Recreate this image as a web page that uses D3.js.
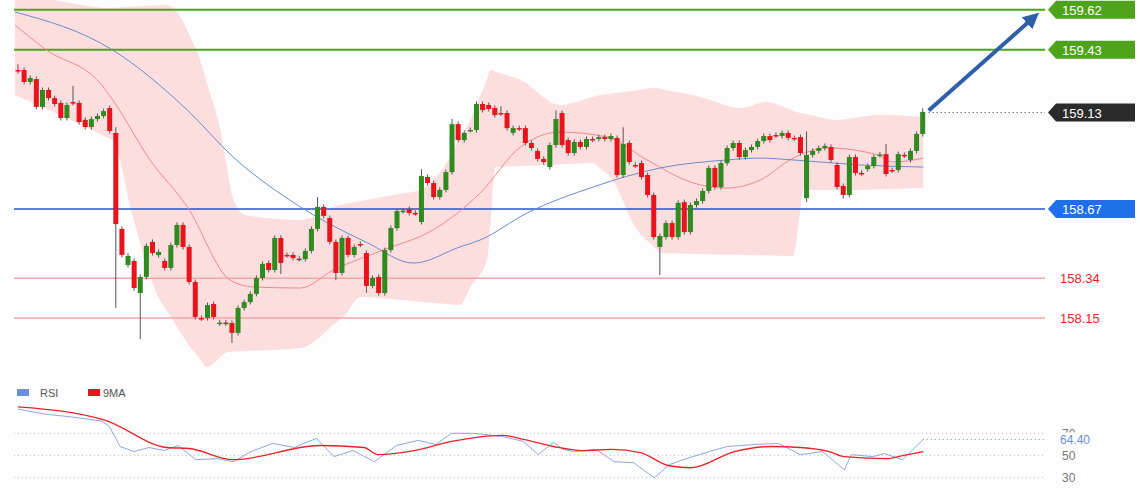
<!DOCTYPE html>
<html><head><meta charset="utf-8">
<script src="https://cdn.jsdelivr.net/npm/d3@7"></script>
<style>body{margin:0;background:#fdfdfd;font-family:"Liberation Sans",Arial,sans-serif}</style>
</head><body><div id="chart"></div>
<script>
// candles: open / close, one per bar
const opens = [159.333,159.333,159.276,159.290,159.157,159.238,159.199,159.176,159.104,159.180,159.176,159.095,159.061,159.099,159.114,159.152,159.033,158.575,158.403,158.422,158.269,158.346,158.513,158.450,158.422,158.389,158.498,158.594,158.489,158.322,158.150,158.150,158.217,158.124,158.128,158.126,158.079,158.198,158.226,158.265,158.341,158.412,158.379,158.532,158.451,158.451,158.433,158.431,158.470,158.575,158.680,158.627,158.513,158.365,158.532,158.451,158.503,158.460,158.303,158.346,158.269,158.474,158.579,158.660,158.670,158.651,158.608,158.823,158.794,158.727,158.761,158.846,159.075,158.999,159.047,159.047,159.171,159.166,159.152,159.128,159.128,159.033,159.056,159.056,158.985,158.947,158.909,158.870,158.975,159.128,158.999,158.937,158.990,158.966,159.004,159.004,159.013,159.004,159.009,158.832,158.985,158.880,158.889,158.832,158.737,158.489,158.536,158.603,158.536,158.703,158.560,158.689,158.708,158.756,158.866,158.775,158.889,158.961,158.985,158.918,158.951,158.966,158.994,159.018,159.023,159.018,159.033,159.009,159.013,158.722,158.928,158.947,158.961,158.966,158.880,158.780,158.737,158.918,158.842,158.860,158.875,158.928,158.932,158.856,158.856,158.928,158.904,158.947,159.028];
const closes = [159.328,159.276,159.295,159.157,159.238,159.199,159.171,159.104,159.166,159.176,159.085,159.061,159.099,159.114,159.137,159.042,158.598,158.451,158.446,158.293,158.346,158.494,158.460,158.465,158.389,158.498,158.594,158.489,158.322,158.155,158.148,158.212,158.155,158.128,158.124,158.079,158.198,158.226,158.265,158.341,158.408,158.379,158.532,158.412,158.450,158.436,158.431,158.470,158.575,158.680,158.637,158.513,158.365,158.532,158.451,158.489,158.500,158.303,158.341,158.269,158.474,158.579,158.660,158.662,158.651,158.650,158.827,158.794,158.727,158.761,158.846,159.075,158.999,159.033,159.047,159.171,159.142,159.147,159.118,159.126,159.056,159.056,159.054,158.985,158.961,158.909,158.894,158.975,159.099,158.975,158.937,158.990,158.966,159.004,159.002,159.013,159.004,159.018,158.832,158.980,158.894,158.878,158.822,158.737,158.536,158.541,158.603,158.536,158.699,158.560,158.689,158.708,158.756,158.866,158.775,158.889,158.961,158.985,158.918,158.951,158.966,158.994,159.018,158.999,159.021,159.033,159.009,159.007,158.937,158.928,158.947,158.961,158.971,158.904,158.775,158.737,158.918,158.842,158.840,158.875,158.918,158.930,158.837,158.854,158.932,158.926,158.947,159.028,159.133];
// long wicks (bar index -> high / low), others get a short wick
const highs = {0:159.36,9:159.257,16:159.06,49:158.727,66:158.86,71:159.10,79:159.16,88:159.14,99:159.06,129:159.04,142:158.98,148:159.15};
const lows = {16:158.198,20:158.050,35:158.031,43:158.36,52:158.33,57:158.27,105:158.355,129:158.703,135:158.72};

// bollinger band & moving averages [bar index, price]
const bandUpper = [[-0.5,159.691],[15.1,159.629],[24.1,159.643],[27.3,159.548],[29.8,159.381],[33.1,159.047],[35,158.737],[37.2,158.641],[46.2,158.618],[52.7,158.689],[65.8,158.761],[69.9,158.880],[74,159.095],[77.3,159.333],[82.2,159.285],[88.7,159.166],[95.3,159.214],[104.3,159.247],[111.6,159.204],[118.2,159.152],[122.3,159.180],[128,159.128],[134,159.095],[141.1,159.118],[148.1,159.109]];
const bandLower = [[-0.5,159.214],[6.9,159.118],[15.5,158.999],[18.8,158.632],[23.2,158.236],[27.7,158.031],[30.9,157.916],[34.2,157.988],[46.2,158.007],[53.2,158.155],[56,158.250],[62.5,158.236],[72.3,158.212],[76.8,158.436],[78.1,158.870],[94.1,158.889],[96.9,158.823],[101.3,158.570],[105.1,158.460],[126.8,158.446],[128.5,158.761],[136.2,158.761],[148.1,158.770]];
const maRed = [[-0.5,159.548],[4.7,159.428],[13.4,159.271],[15.5,159.190],[21.6,158.904],[27.7,158.680],[34.7,158.331],[38.5,158.298],[46.2,158.293],[51.6,158.379],[59.7,158.474],[67.9,158.570],[75.6,158.746],[82.2,158.966],[88.7,159.037],[96.4,159.013],[102.9,158.904],[110.5,158.794],[116,158.770],[121.4,158.808],[126.8,158.913],[132.4,158.961],[140.6,158.928],[143.2,158.894],[148.1,158.913]];
const maBlue = [[-0.5,159.610],[15.5,159.428],[27.7,159.142],[35.2,158.918],[46.2,158.680],[57.2,158.508],[64.7,158.412],[72.3,158.489],[75.6,158.522],[83.3,158.651],[94.1,158.775],[105.1,158.866],[116,158.904],[121.4,158.913],[126.8,158.904],[137.8,158.880],[148.1,158.870]];

// RSI panel [bar index, value]
const rsi = [[0,92.1],[4.3,87.5],[9,84.7],[13.7,81.1],[14.9,76.5],[16.7,58.0],[19,53.4],[21.4,57.1],[23.9,54.3],[26.2,58.9],[29.1,46.0],[32.7,47.0],[35.2,44.2],[38.1,53.4],[41.7,60.8],[45.2,57.1],[48.8,65.4],[51.7,48.8],[54.8,54.3],[58.3,44.2],[61.9,58.9],[65.5,63.5],[68.4,59.9],[70.9,70.0],[74.5,70.0],[79.2,67.2],[82.7,62.6],[85.1,50.6],[87.6,61.7],[89.2,55.3],[91,53.4],[94.6,55.3],[97.5,44.2],[100.7,43.3],[104.1,29.4],[106.5,41.4],[108.8,46.0],[113.1,53.4],[116,58.0],[120.8,59.9],[124.4,60.8],[128,50.6],[131.6,53.4],[135.2,36.8],[136.3,50.6],[139.9,48.8],[141.7,51.6],[144.7,46.0],[148.1,64.4]];
const rsiMA = [[0,94.0],[14.2,82.0],[24.4,57.1],[28,56.2],[35.2,46.0],[49.4,58.9],[56.6,57.1],[58.9,50.6],[64.8,54.3],[70.9,62.6],[79.2,68.2],[82.7,64.5],[87.6,58.0],[92.3,54.3],[97.1,55.3],[101.8,52.5],[106.5,40.5],[110.1,38.7],[117.2,53.4],[123.2,58.0],[128,57.1],[132.7,53.4],[135.2,48.8],[142.2,47.0],[144.7,49.7],[148.1,53.4]];
const rsiTicks = [30, 50, 70];

const resistances = [159.62, 159.43];
const supportMain = 158.67;
const supports = [158.34, 158.15];
const lastPrice = 159.13;
const lastRsi = "64.40";

const W = 1140, H = 500;
const svg = d3.select("#chart").append("svg").attr("width", W).attr("height", H);
svg.append("rect").attr("width", W).attr("height", H).attr("fill", "#fdfdfd");

const x = d3.scaleLinear().domain([0, 148]).range([18, 922.7]);
const y = d3.scaleLinear().domain([158.15, 158.67]).range([318, 209]);
const yr = d3.scaleLinear().domain([30, 70]).range([477.3, 433.3]);
const lineEnd = 1045;

// band
const area = d3.area().x(d => x(d[0])).y0(d => y(d[1])).y1(d => y(d[2])).curve(d3.curveMonotoneX);
const bandUp = d3.scaleLinear().domain(bandUpper.map(d => d[0])).range(bandUpper.map(d => d[1]));
const bandLo = d3.scaleLinear().domain(bandLower.map(d => d[0])).range(bandLower.map(d => d[1]));
const bandIdx = Array.from(new Set([...bandUpper.map(d => d[0]), ...bandLower.map(d => d[0])])).sort((a, b) => a - b);
svg.append("path").datum(bandIdx.map(i => [i, bandLo(i), bandUp(i)]))
    .attr("d", area).attr("fill", "#fbd3d3").attr("opacity", 0.75);

// level lines
resistances.forEach(v => {
    svg.append("line").attr("x1", 14).attr("x2", lineEnd).attr("y1", y(v)).attr("y2", y(v))
        .attr("stroke", "#4fa31a").attr("stroke-width", 2);
});
supports.forEach(v => {
    svg.append("line").attr("x1", 14).attr("x2", lineEnd).attr("y1", y(v)).attr("y2", y(v))
        .attr("stroke", "#f6a5a5").attr("stroke-width", 1.5);
    svg.append("text").attr("x", 1060).attr("y", y(v) + 5).attr("fill", "#e8241e")
        .attr("font-size", 13).text(v.toFixed(2));
});
svg.append("line").attr("x1", 14).attr("x2", lineEnd).attr("y1", y(supportMain)).attr("y2", y(supportMain))
    .attr("stroke", "#2a55c8").attr("stroke-width", 1.3);

// moving averages
const line = d3.line().x(d => x(d[0])).y(d => y(d[1])).curve(d3.curveMonotoneX);
svg.append("path").datum(maRed).attr("d", line).attr("fill", "none").attr("stroke", "#f08a8a").attr("stroke-width", 1);
svg.append("path").datum(maBlue).attr("d", line).attr("fill", "none").attr("stroke", "#6a8ccc").attr("stroke-width", 1);

// candles
const bars = svg.append("g");
opens.forEach((o, i) => {
    const c = closes[i];
    const hi = highs[i] !== undefined ? highs[i] : Math.max(o, c) + 0.012;
    const lo = lows[i] !== undefined ? lows[i] : Math.min(o, c) - 0.012;
    const up = c >= o;
    bars.append("line").attr("x1", x(i)).attr("x2", x(i)).attr("y1", y(hi)).attr("y2", y(lo))
        .attr("stroke", "#555").attr("stroke-width", 1);
    const top = y(Math.max(o, c)), bot = y(Math.min(o, c));
    bars.append("rect").attr("x", x(i) - 2.5).attr("width", 5)
        .attr("y", top).attr("height", Math.max(1.5, bot - top))
        .attr("fill", up ? "#2f8a1f" : "#e8141c");
});

// last price dotted
svg.append("line").attr("x1", x(148) + 6).attr("x2", lineEnd).attr("y1", y(lastPrice)).attr("y2", y(lastPrice))
    .attr("stroke", "#333").attr("stroke-dasharray", "1,3");

// tags
function tag(v, fill, txt) {
    const yy = y(v);
    svg.append("path").attr("d", `M1048,${yy} L1056,${yy - 9} L1135,${yy - 9} L1135,${yy + 9} L1056,${yy + 9} Z`).attr("fill", fill);
    svg.append("text").attr("x", 1062).attr("y", yy + 5).attr("fill", "#fff").attr("font-size", 13).text(txt);
}
resistances.forEach(v => tag(v, "#4fa31a", v.toFixed(2)));
tag(lastPrice, "#2b2b2b", lastPrice.toFixed(2));
tag(supportMain, "#1f6fe8", supportMain.toFixed(2));

// arrow
svg.append("defs").append("marker").attr("id", "ah").attr("viewBox", "0 0 10 10").attr("refX", 5).attr("refY", 5)
    .attr("markerWidth", 4).attr("markerHeight", 4).attr("orient", "auto")
    .append("path").attr("d", "M0,0 L10,5 L0,10 Z").attr("fill", "#2f5fa8");
svg.append("line").attr("x1", x(148) + 6).attr("y1", y(lastPrice) - 2).attr("x2", 1033).attr("y2", 18)
    .attr("stroke", "#2f5fa8").attr("stroke-width", 4).attr("marker-end", "url(#ah)");

// RSI legend
svg.append("rect").attr("x", 17).attr("y", 389).attr("width", 12).attr("height", 7).attr("fill", "#6a8fdc");
svg.append("text").attr("x", 40).attr("y", 397).attr("font-size", 11).attr("fill", "#555").text("RSI");
svg.append("rect").attr("x", 88).attr("y", 389).attr("width", 12).attr("height", 7).attr("fill", "#e8141c");
svg.append("text").attr("x", 103).attr("y", 397).attr("font-size", 11).attr("fill", "#555").text("9MA");

// RSI grid
rsiTicks.forEach(t => {
    svg.append("line").attr("x1", 14).attr("x2", 1045).attr("y1", yr(t)).attr("y2", yr(t))
        .attr("stroke", "#bbb").attr("stroke-dasharray", "1,3");
    svg.append("text").attr("x", 1062).attr("y", yr(t) + 5).attr("font-size", 12).attr("fill", "#777").text(t);
});
svg.append("line").attr("x1", x(148)).attr("x2", 1045).attr("y1", yr(64.4)).attr("y2", yr(64.4))
    .attr("stroke", "#6a8fdc").attr("stroke-dasharray", "1,3");
svg.append("rect").attr("x", 1058).attr("y", yr(64.4) - 7).attr("width", 36).attr("height", 13).attr("fill", "#fdfdfd");
svg.append("text").attr("x", 1060).attr("y", yr(64.4) + 5).attr("font-size", 12).attr("fill", "#6a8fdc").text(lastRsi);

const rl = d3.line().x(d => x(d[0])).y(d => yr(d[1]));
svg.append("path").datum(rsi).attr("d", rl).attr("fill", "none").attr("stroke", "#8fa8e0").attr("stroke-width", 1);
svg.append("path").datum(rsiMA).attr("d", rl.curve(d3.curveMonotoneX)).attr("fill", "none").attr("stroke", "#e8242a").attr("stroke-width", 1.3);
</script></body></html>
